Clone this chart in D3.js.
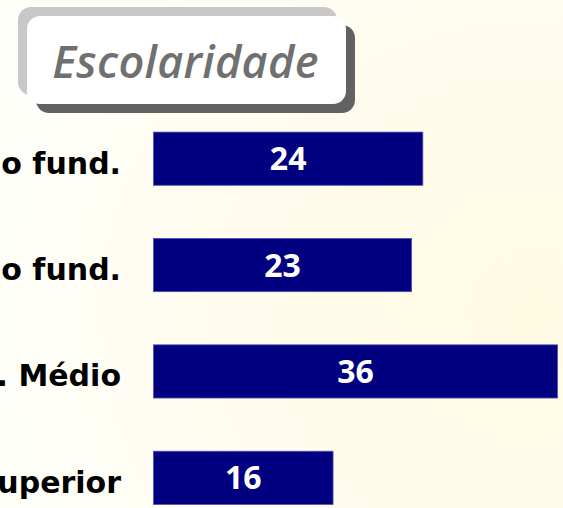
<!DOCTYPE html>
<html>
<head>
<meta charset="utf-8">
<script src="https://cdn.jsdelivr.net/npm/d3@7"></script>
<style>
  html, body { margin: 0; padding: 0; overflow: hidden; }
  svg { display: block; }
</style>
</head>
<body>
<svg id="chart" width="563" height="508"></svg>
<script>
const title = "Escolaridade";
const categories = ["Até 4ª série do fund.", "5ª a 8ª série do fund.", "Ens. Médio", "Superior"];
const values = [24, 23, 36, 16];

const W = 563, H = 508;
const svg = d3.select("#chart");

// background
const defs = svg.append("defs");
const bg = defs.append("radialGradient").attr("id", "bg")
  .attr("cx", "0.95").attr("cy", "0.62").attr("r", "1.0");
bg.append("stop").attr("offset", "0").attr("stop-color", "#fffae2");
bg.append("stop").attr("offset", "0.55").attr("stop-color", "#fffcee");
bg.append("stop").attr("offset", "1").attr("stop-color", "#fffffa");
svg.append("rect").attr("width", W).attr("height", H).attr("fill", "url(#bg)");

// title box
const bx = 18, by = 7, bw = 319, bh = 88, off = 9, r = 13;
svg.append("rect").attr("x", bx).attr("y", by).attr("width", bw).attr("height", bh)
  .attr("rx", r).attr("fill", "#c8c8c8");
svg.append("rect").attr("x", bx + 2 * off).attr("y", by + 2 * off).attr("width", bw).attr("height", bh)
  .attr("rx", r).attr("fill", "#626262");
svg.append("rect").attr("x", bx + off).attr("y", by + off).attr("width", bw).attr("height", bh)
  .attr("rx", r).attr("fill", "#ffffff");
svg.append("text")
  .attr("x", bx + off + bw / 2 - 1).attr("y", 78)
  .attr("text-anchor", "middle")
  .attr("font-family", "'Open Sans', sans-serif")
  .attr("font-style", "italic")
  .attr("font-weight", 600)
  .attr("font-size", 45)
  .attr("letter-spacing", 0.3)
  .attr("fill", "#707070")
  .text(title);

// scales
const x = d3.scaleLinear().domain([0, 36]).range([153.5, 557.5]);
const y = d3.scaleBand().domain(categories).range([105.5, 531]).paddingInner(0.5).paddingOuter(0.25);

const g = svg.append("g");

g.selectAll("rect.bar").data(categories).join("rect")
  .attr("class", "bar")
  .attr("x", x(0))
  .attr("y", d => y(d))
  .attr("width", (d, i) => x(values[i]) - x(0))
  .attr("height", y.bandwidth())
  .attr("fill", "#000080")
  .attr("stroke", "#5050b0")
  .attr("stroke-width", 0.8);

g.selectAll("text.val").data(categories).join("text")
  .attr("class", "val")
  .attr("x", (d, i) => (x(0) + x(values[i])) / 2)
  .attr("y", d => y(d) + y.bandwidth() / 2 + 11.5)
  .attr("text-anchor", "middle")
  .attr("font-family", "'Open Sans', sans-serif")
  .attr("font-weight", 700)
  .attr("font-size", 32)
  .attr("fill", "#ffffff")
  .text((d, i) => values[i]);

g.selectAll("text.lab").data(categories).join("text")
  .attr("class", "lab")
  .attr("x", 121)
  .attr("y", d => y(d) + y.bandwidth() / 2 + 15)
  .attr("text-anchor", "end")
  .attr("font-family", "'DejaVu Sans', sans-serif")
  .attr("font-weight", 700)
  .attr("font-size", 30)
  .attr("fill", "#000000")
  .text(d => d);
</script>
</body>
</html>
